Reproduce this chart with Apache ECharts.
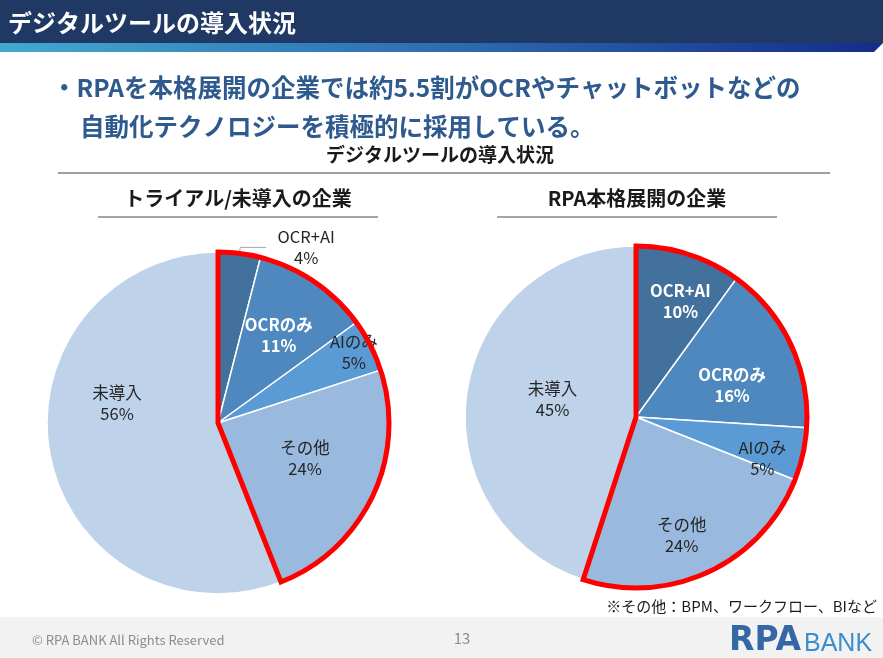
<!DOCTYPE html>
<html>
<head>
<meta charset="utf-8">
<script src="https://cdn.jsdelivr.net/npm/echarts@6/dist/echarts.min.js"></script>
<style>
html,body{margin:0;padding:0;background:#fff;}
#chart{width:883px;height:658px;}
</style>
</head>
<body>
<div id="chart"></div>
<script>
// ---- data ----
const categories = ['OCR+AI', 'OCRのみ', 'AIのみ', 'その他', '未導入'];
const trialValues = [4, 11, 5, 24, 56];   // トライアル/未導入の企業
const fullValues  = [10, 16, 5, 24, 45];  // RPA本格展開の企業
const pieTitles = ['トライアル/未導入の企業', 'RPA本格展開の企業'];
const chartTitle = 'デジタルツールの導入状況';
const headerTitle = 'デジタルツールの導入状況';
const bulletLines = ['・RPAを本格展開の企業では約5.5割がOCRやチャットボットなどの', '自動化テクノロジーを積極的に採用している。'];
const noteText = '※その他：BPM、ワークフロー、BIなど';

// ---- styles ----
const FONT = '"Noto Sans CJK JP", "Noto Sans", sans-serif';
const sliceColors = ['#41719C', '#4E88BF', '#5B9BD5', '#9AB9DF', '#BED2EA'];
const darkLabel = {color: '#262626', fontWeight: 'normal'};
const lightLabel = {color: '#FFFFFF', fontWeight: 'bold'};
// label style per slice (offsets relative to the default inside position)
const trialLabelStyle = [
  null, // outside label
  Object.assign({offset: [11, -15]}, lightLabel),
  Object.assign({offset: [57, -31]}, darkLabel),
  Object.assign({offset: [7, -2]}, darkLabel),
  Object.assign({offset: [-14, -36]}, darkLabel)
];
const fullLabelStyle = [
  Object.assign({offset: [17, -32]}, lightLabel),
  Object.assign({offset: [16, 6]}, lightLabel),
  Object.assign({offset: [40, 22]}, darkLabel),
  Object.assign({offset: [8, 38]}, darkLabel),
  Object.assign({offset: [4, -4]}, darkLabel)
];

function buildData(values, labelStyles) {
  return categories.map(function (name, i) {
    const item = {name: name, value: values[i], itemStyle: {color: sliceColors[i]}};
    const ls = labelStyles[i];
    if (ls) {
      item.label = Object.assign({position: 'inside'}, ls);
    } else {
      item.label = {
        position: 'outside', color: '#262626',
        formatter: '{a|{b}}\n{a|{c}%}',
        rich: {a: {width: 70, align: 'center', fontSize: 16.5, lineHeight: 21, fontFamily: FONT, color: '#262626'}}
      };
      item.labelLine = {show: true, length: 6, length2: 26, smooth: false, lineStyle: {color: '#A6A6A6', width: 1}};
    }
    return item;
  });
}

function pieSeries(values, labelStyles, center) {
  return {
    type: 'pie', center: center, radius: 171, startAngle: 90, clockwise: true,
    avoidLabelOverlap: false, silent: true, animation: false,
    itemStyle: {borderColor: '#FFFFFF', borderWidth: 1.5},
    label: {show: true, formatter: '{b}\n{c}%', fontSize: 16.5, lineHeight: 21, fontFamily: FONT, align: 'center'},
    labelLine: {show: false},
    emphasis: {disabled: true},
    data: buildData(values, labelStyles),
    z: 2
  };
}

function highlightSeries(values, center) {
  const adopted = values.slice(0, 4).reduce(function (a, b) { return a + b; }, 0);
  const rest = values[4];
  return {
    type: 'pie', center: center, radius: 171, startAngle: 90, clockwise: true,
    silent: true, animation: false, label: {show: false}, labelLine: {show: false},
    emphasis: {disabled: true},
    data: [
      {value: adopted, itemStyle: {color: 'rgba(0,0,0,0)', borderColor: '#FF0000', borderWidth: 5, borderJoin: 'miter'}},
      {value: rest, itemStyle: {color: 'rgba(0,0,0,0)', borderWidth: 0}}
    ],
    z: 5
  };
}

const leftCenter = [218, 423];
const rightCenter = [636, 417];

const chart = echarts.init(document.getElementById('chart'), null, {renderer: 'canvas'});
chart.setOption({
  backgroundColor: '#FFFFFF',
  animation: false,
  textStyle: {fontFamily: FONT},
  series: [
    pieSeries(trialValues, trialLabelStyle, leftCenter),
    highlightSeries(trialValues, leftCenter),
    pieSeries(fullValues, fullLabelStyle, rightCenter),
    highlightSeries(fullValues, rightCenter)
  ],
  graphic: [
    // header bar
    {type: 'rect', shape: {x: 0, y: 0, width: 883, height: 43}, style: {fill: '#203864'}, z: 1},
    {type: 'rect', shape: {x: 0, y: 43, width: 883, height: 9},
      style: {fill: new echarts.graphic.LinearGradient(0, 0, 1, 0, [{offset: 0, color: '#43A9D0'}, {offset: 0.5, color: '#2E6DB0'}, {offset: 1, color: '#142C8A'}])}, z: 1},
    {type: 'polygon', shape: {points: [[874, 52], [883, 43], [883, 52]]}, style: {fill: '#FFFFFF'}, z: 2},
    {type: 'text', x: 8, y: 23, style: {text: headerTitle, fill: '#FFFFFF', font: 'bold 24px ' + FONT, textVerticalAlign: 'middle'}, z: 3},
    // bullet text
    {type: 'text', x: 52, y: 88, style: {text: bulletLines[0], fill: '#2E5A8E', font: 'bold 24.5px ' + FONT, textVerticalAlign: 'middle'}, z: 3},
    {type: 'text', x: 80, y: 127, style: {text: bulletLines[1], fill: '#2E5A8E', font: 'bold 24.5px ' + FONT, textVerticalAlign: 'middle'}, z: 3},
    // chart title
    {type: 'text', x: 440, y: 155, style: {text: chartTitle, fill: '#1A1A1A', font: 'bold 19px ' + FONT, textAlign: 'center', textVerticalAlign: 'middle'}, z: 3},
    {type: 'line', shape: {x1: 58, y1: 173, x2: 830, y2: 173}, style: {stroke: '#7F7F7F', lineWidth: 1.5}, z: 3},
    // subtitles
    {type: 'text', x: 238, y: 198, style: {text: pieTitles[0], fill: '#1A1A1A', font: 'bold 20px ' + FONT, textAlign: 'center', textVerticalAlign: 'middle'}, z: 3},
    {type: 'line', shape: {x1: 98, y1: 217, x2: 378, y2: 217}, style: {stroke: '#A6A6A6', lineWidth: 2}, z: 3},
    {type: 'text', x: 637, y: 198, style: {text: pieTitles[1], fill: '#1A1A1A', font: 'bold 20px ' + FONT, textAlign: 'center', textVerticalAlign: 'middle'}, z: 3},
    {type: 'line', shape: {x1: 497, y1: 217, x2: 777, y2: 217}, style: {stroke: '#A6A6A6', lineWidth: 2}, z: 3},
    // note
    {type: 'text', x: 877, y: 606, style: {text: noteText, fill: '#1A1A1A', font: '15px ' + FONT, textAlign: 'right', textVerticalAlign: 'middle'}, z: 3},
    // footer
    {type: 'rect', shape: {x: 0, y: 617, width: 883, height: 41}, style: {fill: '#F2F2F2'}, z: 1},
    {type: 'text', x: 32, y: 640, style: {text: '© RPA BANK All Rights Reserved', fill: '#8C8C8C', font: '13px ' + FONT, textVerticalAlign: 'middle'}, z: 3},
    {type: 'text', x: 462, y: 638, style: {text: '13', fill: '#8C8C8C', font: '15px ' + FONT, textAlign: 'center', textVerticalAlign: 'middle'}, z: 3},
    {type: 'text', x: 729, y: 641, style: {text: 'RPA', fill: '#3566A6', font: 'bold 33px "DejaVu Sans", sans-serif', textVerticalAlign: 'middle'}, z: 3},
    {type: 'text', x: 804, y: 644, style: {text: 'BANK', fill: '#3C8ECB', font: '25px "Liberation Sans", sans-serif', textVerticalAlign: 'middle'}, z: 3}
  ]
});
</script>
</body>
</html>
